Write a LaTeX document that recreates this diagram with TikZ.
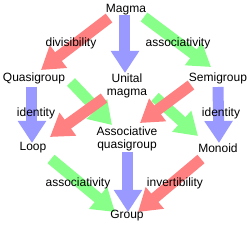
\documentclass[tikz,border=0pt]{standalone}
\usepackage{fontspec}
\setmainfont{Liberation Sans}
\usetikzlibrary{arrows.meta,calc}
\pgfdeclarelayer{bg}
\pgfsetlayers{bg,main}
\definecolor{arrred}{RGB}{255,128,128}
\definecolor{arrgreen}{RGB}{136,255,136}
\definecolor{arrblue}{RGB}{153,153,255}

\begin{document}
\begin{tikzpicture}[x=1pt,y=-1pt,
  lbl/.style={font=\fontsize{12}{13}\selectfont,inner sep=1pt,align=center},
  blk/.style={line width=11pt,-{Triangle[width=27pt,length=22pt]}}]
\useasboundingbox (0,0) rectangle (250,227);
\node[lbl] (magma) at (126,10) {Magma};
\node[lbl] (quasi) at (34,78) {Quasigroup};
\node[lbl] (unital) at (127,86) {Unital\\magma};
\node[lbl] (semi) at (218,78) {Semigroup};
\node[lbl] (loop) at (33,148) {Loop};
\node[lbl] (assoc) at (127,139) {Associative\\quasigroup};
\node[lbl] (monoid) at (218,148) {Monoid};
\node[lbl] (group) at (127,216) {Group};
% property labels
\node[lbl] (divis) at (71,43) {divisibility};
\node[lbl] (assoctop) at (178,43) {associativity};
\node[lbl] (identl) at (36,113) {identity};
\node[lbl] (identr) at (221,113) {identity};
\node[lbl] (assocbot) at (78,183) {associativity};
\node[lbl] (invert) at (175,183) {invertibility};
\begin{pgfonlayer}{bg}
\draw[blk,arrblue] ($(magma)+(-1,5)$)--($(unital)+(-2,-13)$);
\draw[blk,arrblue] ($(quasi)+(-2,9)$)--($(loop)+(-1,-5)$);
\draw[blk,arrblue] ($(semi)+(0,9)$)--($(monoid)+(1,-5)$);
\draw[blk,arrblue] ($(assoc)+(1,13)$)--($(group)+(1,-4)$);
\draw[blk,arrgreen] ($(magma)+(18,7)$)--($(semi)+(-7,-11)$);
\draw[blk,arrgreen] ($(quasi)+(37,4)$)--($(assoc)+(-15,-14)$);
\draw[blk,arrgreen] ($(unital)+(28,11)$)--($(monoid)+(-20,-12)$);
\draw[blk,arrgreen] ($(loop)+(18,11)$)--($(group)+(-12,-4)$);
\draw[blk,arrred] ($(magma)+(-17,8)$)--($(quasi)+(7,-8)$);
\draw[blk,arrred] ($(unital)+(-23,12)$)--($(loop)+(17,-11)$);
\draw[blk,arrred] ($(semi)+(-27,7)$)--($(assoc)+(13,-16)$);
\draw[blk,arrred] ($(monoid)+(-17,11)$)--($(group)+(11,-4)$);
\end{pgfonlayer}
\end{tikzpicture}
\end{document}
